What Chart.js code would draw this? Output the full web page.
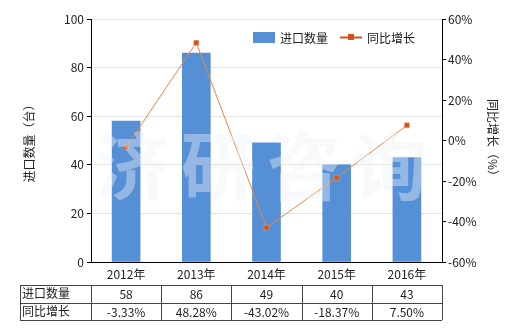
<!DOCTYPE html>
<html>
<head>
<meta charset="utf-8">
<script src="https://cdn.jsdelivr.net/npm/chart.js@4"></script>
<style>
  html, body { margin: 0; padding: 0; background: #fff; }
  #wrap { width: 520px; height: 330px; position: relative; }
</style>
</head>
<body>
<div id="wrap"><canvas id="c" width="520" height="330"></canvas></div>
<script>
const years = ['2012年', '2013年', '2014年', '2015年', '2016年'];
const qty = [58, 86, 49, 40, 43];
const growth = [-3.33, 48.28, -43.02, -18.37, 7.50];
const qtyLabel = '进口数量';
const growthLabel = '同比增长';

const FONT = '"Noto Sans CJK SC", "DejaVu Sans", sans-serif';
const BLUE = '#5590d6';
const ORANGE = '#e8853f';
const MARK = '#d2521a';

// legend, table and watermark
const extras = {
  id: 'extras',
  afterDraw(chart) {
    const ctx = chart.ctx;
    const x = chart.scales.x;
    ctx.save();

    // watermark
    ctx.font = 'bold 74px ' + FONT;
    ctx.fillStyle = 'rgba(236,241,246,0.42)';
    ctx.textBaseline = 'middle';
    ctx.textAlign = 'center';
    ['济', '研', '咨', '询'].forEach((ch, i) => ctx.fillText(ch, 132 + i * 86, 166));

    // legend
    ctx.font = '12px ' + FONT;
    ctx.textAlign = 'left';
    ctx.fillStyle = BLUE;
    ctx.fillRect(253, 32, 22, 11);
    ctx.fillStyle = '#222';
    ctx.fillText(qtyLabel, 280, 38);
    ctx.strokeStyle = MARK;
    ctx.lineWidth = 2;
    ctx.beginPath(); ctx.moveTo(340, 37.5); ctx.lineTo(362, 37.5); ctx.stroke();
    ctx.fillStyle = MARK;
    ctx.fillRect(348, 34, 6, 6);
    ctx.fillStyle = '#222';
    ctx.fillText(growthLabel, 367, 38);

    // table
    const top = 285, rowH = 17.5, left = 20;
    const right = x.right;
    ctx.strokeStyle = '#444';
    ctx.lineWidth = 1;
    ctx.beginPath();
    for (let r = 0; r <= 2; r++) {
      const yy = Math.round(top + r * rowH) + 0.5;
      ctx.moveTo(left, yy); ctx.lineTo(right, yy);
    }
    const bounds = [left, x.left];
    years.forEach((_, i) => bounds.push(x.getPixelForValue(i) + (x.getPixelForValue(1) - x.getPixelForValue(0)) / 2));
    bounds.forEach(b => {
      const xx = Math.round(b) + 0.5;
      ctx.moveTo(xx, top); ctx.lineTo(xx, top + 2 * rowH);
    });
    ctx.stroke();

    ctx.fillStyle = '#222';
    ctx.textAlign = 'left';
    ctx.fillText(qtyLabel, left + 2, top + rowH / 2);
    ctx.fillText(growthLabel, left + 2, top + rowH * 1.5);
    ctx.textAlign = 'center';
    years.forEach((_, i) => {
      const cx = x.getPixelForValue(i);
      ctx.fillText(String(qty[i]), cx, top + rowH / 2 + 1);
      ctx.fillText(growth[i].toFixed(2) + '%', cx, top + rowH * 1.5 + 1);
    });
    ctx.restore();
  }
};

Chart.defaults.font.family = FONT;
Chart.defaults.font.size = 12;
Chart.defaults.color = '#222';

new Chart(document.getElementById('c'), {
  data: {
    labels: years,
    datasets: [
      {
        type: 'line', label: growthLabel, data: growth, yAxisID: 'y1', order: 0,
        borderColor: ORANGE, borderWidth: 1, backgroundColor: MARK,
        pointStyle: 'rect', pointRadius: 3.5, pointBackgroundColor: MARK,
        pointBorderColor: '#f0a070', pointBorderWidth: 0.5, tension: 0,
      },
      {
        type: 'bar', label: qtyLabel, data: qty, yAxisID: 'y', order: 1,
        backgroundColor: BLUE, barThickness: 28,
      },
    ],
  },
  options: {
    responsive: false,
    animation: false,
    layout: { padding: { left: 22, right: 20, top: 19, bottom: 45 } },
    plugins: { legend: { display: false }, tooltip: { enabled: false } },
    scales: {
      x: {
        grid: { display: false, drawTicks: false },
        border: { color: '#000', width: 1 },
        ticks: { padding: 5, color: '#222' },
        afterFit: (s) => { s.height = 23; },
      },
      y: {
        position: 'left', min: 0, max: 100,
        ticks: { stepSize: 20, padding: 3, color: '#222' },
        grid: { color: '#e3e3e3', tickLength: 4, tickColor: '#000' },
        border: { color: '#000', width: 1 },
        title: { display: true, text: '进口数量（台）', padding: 0, color: '#222' },
        afterFit: (s) => { s.width = 69; },
      },
      y1: {
        position: 'right', min: -60, max: 60,
        ticks: { stepSize: 20, padding: 2, color: '#222', callback: (v) => v + '%' },
        grid: { drawOnChartArea: false, tickLength: 4, tickColor: '#000' },
        border: { color: '#000', width: 1 },
        title: { display: true, text: '同比增长（%）', padding: 0, color: '#222' },
        afterFit: (s) => { s.width = 58; },
      },
    },
  },
  plugins: [extras],
});
</script>
</body>
</html>
